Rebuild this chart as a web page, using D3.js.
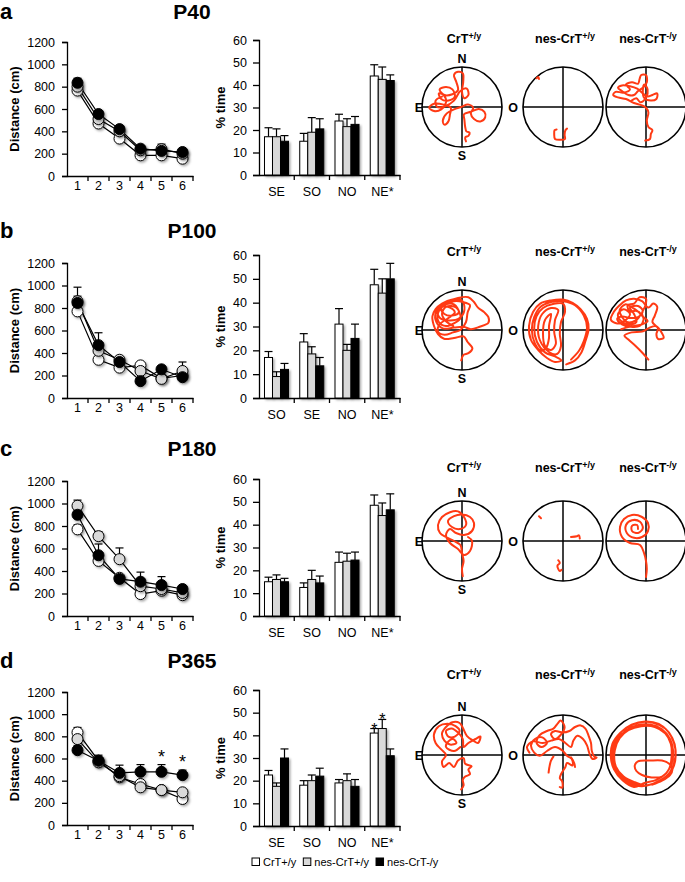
<!DOCTYPE html>
<html>
<head>
<meta charset="utf-8">
<script src="https://cdn.jsdelivr.net/npm/d3@7"></script>
<style>
body { margin: 0; background: #fff; }
svg { font-family: "Liberation Sans", Arial, sans-serif; }
</style>
</head>
<body>
<svg id="chart" width="685" height="882"></svg>
<script>
// ---- data ----
var days = [1, 2, 3, 4, 5, 6];
var distTicks = [0, 200, 400, 600, 800, 1000, 1200];
var timeTicks = [0, 10, 20, 30, 40, 50, 60];
var groups = ["CrT+/y", "nes-CrT+/y", "nes-CrT-/y"];
var ages = ["P40", "P100", "P180", "P365"];
var letters = ["a", "b", "c", "d"];

// distance (cm) per day: rows = CrT+/y, nes-CrT+/y, nes-CrT-/y
var distP40 = [[765, 470, 335, 185, 185, 155], [800, 510, 400, 230, 240, 200], [835, 555, 420, 245, 225, 215]];
var distErrP40 = [[30, 25, 25, 15, 20, 15], [35, 30, 45, 20, 45, 20], [40, 30, 25, 20, 25, 20]];
var distP100 = [[770, 340, 270, 290, 175, 200], [860, 420, 340, 240, 170, 240], [845, 470, 320, 150, 255, 185]];
var distErrP100 = [[30, 30, 30, 20, 20, 20], [125, 50, 30, 20, 30, 80], [60, 110, 30, 20, 30, 30]];
var distP180 = [[770, 490, 340, 195, 225, 185], [980, 710, 505, 265, 240, 205], [900, 540, 330, 305, 275, 240]];
var distErrP180 = [[40, 30, 20, 20, 20, 20], [50, 40, 100, 20, 25, 20], [40, 100, 20, 85, 75, 30]];
var distP365 = [[835, 580, 430, 370, 315, 235], [775, 565, 440, 340, 315, 295], [675, 580, 470, 480, 480, 450]];
var distErrP365 = [[45, 30, 20, 20, 20, 20], [30, 30, 20, 20, 20, 20], [40, 50, 70, 65, 65, 45]];
var distStarsP365 = [5, 6];

// % time per quadrant
var quadP40 = ["SE", "SO", "NO", "NE*"];
var quadP100 = ["SO", "SE", "NO", "NE*"];
var quadP180 = ["SE", "SO", "NO", "NE*"];
var quadP365 = ["SE", "SO", "NO", "NE*"];
var timeP40 = [[17, 15, 24, 44], [17, 19, 21.5, 42.5], [15, 20.5, 22.5, 42]];
var timeErrP40 = [[4, 3.5, 3, 5], [3.5, 6.5, 3.5, 5.5], [2.5, 4.5, 3.5, 2.5]];
var timeP100 = [[17, 23.5, 31, 47.5], [9, 18.5, 20, 44], [12, 13.5, 25, 50]];
var timeErrP100 = [[2.5, 3.5, 6.5, 6.5], [2, 3, 2.5, 6], [2.5, 3.5, 6, 6.5]];
var timeP180 = [[15, 12.5, 23.5, 48.5], [16, 16, 24, 44], [15, 14.5, 24.5, 46.5]];
var timeErrP180 = [[2, 2, 4.5, 4.5], [2, 4, 3.5, 5.5], [1.5, 3, 3.5, 7]];
var timeP365 = [[22.5, 18, 19, 41], [17.5, 20, 20, 43], [30, 22, 17.5, 31]];
var timeErrP365 = [[2, 2, 1.5, 2], [1.5, 2.5, 3, 4], [4, 3.5, 3, 3]];
var timeStarsP365 = [[3, 0], [3, 1]]; // [quadrant, group]

// swim paths, pool coords -100..100 (x: E -> O, y: S -> N)
var pathP40CrT = [[[10,-86],[8,-76],[16,-72],[19,-64],[11,-61],[8,-50],[6,-32],[5,-18],[22,-12],[42,-5],[56,-12],[58,-26],[46,-36],[30,-30],[22,-16],[28,-2],[15,6],[-2,0],[-20,-6],[-38,-16],[-48,-34],[-44,-44],[-34,-36],[-30,-18],[-28,-2],[-46,6],[-70,8],[-82,-2],[-70,-10],[-52,-6],[-40,12],[-46,30],[-58,34],[-52,20],[-34,16],[-18,26],[-24,44],[-40,50],[-56,44],[-44,30],[-24,32],[-10,42],[-14,62],[-20,80],[-10,88],[2,84],[3,62],[0,38],[6,22],[16,30],[12,46],[-4,40],[-20,16],[-42,2],[-62,0],[-66,16],[-50,26]]];
var pathP40NesWt = [[[-66,72],[-62,75],[-60,70]], [[10,-54],[6,-58],[4,-70],[5,-80],[-8,-82],[-20,-80],[-22,-68],[-21,-58],[-16,-56]]];
var pathP40NesKo = [[[-2,-84],[10,-80],[12,-68],[16,-58],[6,-50],[2,-34],[6,-14],[0,-2],[-10,4],[-30,10],[-50,20],[-70,24],[-82,30],[-76,38],[-56,36],[-40,44],[-50,56],[-35,62],[-20,58],[-16,70],[-12,80],[0,80],[2,62],[-6,50],[-20,40],[-30,30],[-44,30],[-60,40],[-70,48],[-60,54],[-40,52],[-22,46],[-10,36],[4,26],[16,30],[28,34],[26,20],[12,16],[-4,22],[-8,40],[-4,56],[4,44],[0,24],[-14,12],[-24,22],[-36,16]]];
var pathP100CrT = [[[-2,-76],[4,-62],[16,-58],[26,-46],[14,-30],[4,-16],[-20,-20],[-45,-22],[-60,-10],[-70,10],[-74,34],[-66,52],[-50,66],[-24,76],[0,74],[6,50],[-6,30],[-30,24],[-55,30],[-62,50],[-48,62],[-20,64],[-8,44],[-24,36],[-44,40],[-52,54],[-36,70],[-10,80],[16,82],[30,70],[40,56],[56,44],[66,32],[66,18],[44,8],[22,2],[4,8],[-20,6],[-48,4],[-64,20],[-66,42],[-52,58],[-30,56],[-18,44],[-34,30],[-56,14],[-60,-4],[-44,-12],[-22,-6],[-4,0],[10,20],[14,44],[20,62],[2,70],[-20,72],[-44,62],[-60,42],[-58,20],[-40,10],[-18,18],[-4,30],[-14,56],[-40,58],[-50,40],[-40,22],[-22,10]]];
var pathP100NesWt = [[[8,-86],[30,-76],[46,-56],[56,-28],[64,2],[60,28],[44,52],[24,68],[0,76],[-30,74],[-57,66],[-75,45],[-85,10],[-80,-25],[-62,-50],[-40,-70],[-20,-80],[-4,-76],[-20,-66],[-45,-56],[-65,-30],[-72,5],[-66,35],[-50,55],[-25,65],[0,66],[5,45],[-5,20],[-8,-10],[-5,-40],[-15,-60],[-35,-55],[-58,-25],[-62,10],[-52,40],[-30,55],[-12,50],[-20,25],[-22,-5],[-18,-35],[-30,-50],[-45,-40],[-50,-10],[-45,25],[-30,40],[-35,10],[-35,-20],[-42,-44],[-55,-52],[-70,-34],[-78,0],[-72,32],[-56,58],[-30,70],[0,72],[30,62],[52,36],[60,6],[52,-28],[40,-52],[20,-74]]];
var pathP100NesKo = [[[6,-74],[-8,-58],[-26,-40],[-44,-24],[-54,-14],[-36,-6],[-10,-4],[6,4],[24,10],[40,-8],[44,-20],[30,-22],[26,-10],[30,4],[16,20],[22,36],[28,58],[18,66],[6,56],[-10,72],[-30,78],[-50,74],[-66,62],[-80,46],[-88,26],[-72,16],[-52,24],[-40,40],[-56,52],[-70,40],[-64,24],[-44,14],[-24,20],[-30,40],[-40,56],[-20,60],[-8,48],[-20,32],[-40,30],[-60,34],[-72,28],[-60,14],[-38,8],[-16,10],[-6,26],[-10,42],[-2,60],[0,78],[-16,82],[-30,66],[-46,62],[-40,46],[-26,48],[-14,40],[-26,24],[-48,20],[-66,48],[-52,64],[-34,56],[-20,46],[-8,34],[4,22],[-10,14],[-30,10],[-50,6],[-62,2]]];
var pathP180CrT = [[[2,-88],[0,-70],[4,-50],[0,-30],[-4,-10],[-20,0],[-40,10],[-55,20],[-60,40],[-50,60],[-30,72],[-10,74],[5,60],[10,40],[-5,30],[-25,35],[-35,50],[-20,62],[0,66],[20,60],[30,45],[25,25],[5,15],[-15,20],[-30,30],[-40,15],[-30,-5],[-10,-20],[5,-35],[20,-25],[25,0],[15,10]]];
var pathP180NesWt = [[[-60,62],[-55,57]], [[20,10],[35,12],[40,14],[42,6]], [[-12,-48],[-8,-55],[-14,-62],[-8,-75],[-4,-72]]];
var pathP180NesKo = [[[0,-90],[2,-70],[0,-50],[-5,-30],[-15,-10],[-40,-5],[-60,10],[-65,35],[-55,55],[-35,65],[-10,60],[5,45],[5,25],[-10,10],[-30,8],[-48,20],[-50,40],[-35,52],[-15,48],[-8,32],[-20,20],[-35,25],[-35,38],[-22,40],[-20,30]]];
var pathP365CrT = [[[-2,-86],[4,-76],[2,-62],[8,-54],[20,-48],[16,-36],[24,-28],[8,-22],[4,-8],[-10,-14],[-20,-30],[-32,-20],[-46,-30],[-50,-16],[-40,0],[-52,14],[-66,30],[-70,52],[-58,72],[-36,78],[-16,72],[-6,60],[-18,46],[-34,46],[-40,60],[-26,66],[-10,56],[2,40],[4,20],[16,30],[34,40],[46,46],[40,30],[28,36],[12,48],[2,68],[-6,80],[-24,82],[-40,70],[-50,54],[-44,36],[-30,26],[-14,30],[-22,40],[-34,34],[-40,20],[-20,10],[-4,20]]];
var pathP365NesWt = [[[-8,-80],[-2,-82],[-2,-66],[-8,-58],[-4,-46],[6,-30],[10,-20],[24,-26],[22,-10],[10,-2],[0,10],[-20,20],[-40,10],[-58,-2],[-72,6],[-80,24],[-70,40],[-52,44],[-40,30],[-54,20],[-66,30],[-58,50],[-40,60],[-24,66],[-14,78],[-6,86],[4,70],[-6,50],[-20,40],[-30,52],[-20,60],[0,56],[16,60],[30,70],[44,74],[56,66],[64,48],[70,30],[72,10],[78,-4],[84,-6],[74,-10],[66,4],[60,24],[50,40],[36,48],[26,36],[20,20],[6,30],[-10,40],[-30,36],[-50,30],[-76,34],[-90,20],[-84,6]], [[-36,-44],[-34,-30],[-30,-14],[-24,-4]], [[30,-30],[28,-20],[20,-6]]];
var pathP365NesKo = [[[-20,-75],[-50,-62],[-72,-40],[-84,-10],[-82,20],[-70,48],[-46,70],[-14,82],[20,80],[48,66],[66,42],[74,12],[70,-20],[56,-48],[30,-66],[0,-76],[-28,-68],[-56,-54],[-76,-28],[-80,4],[-72,36],[-52,60],[-24,74],[10,76],[40,64],[60,40],[68,10],[64,-22],[50,-46],[26,-62],[-4,-70],[-30,-80],[-58,-64],[-80,-36],[-88,-4],[-84,28],[-64,56],[-36,76],[-2,84],[32,78],[56,58],[70,30],[74,-4],[66,-36],[46,-58],[18,-72],[-10,-78],[-40,-72],[-66,-50],[-78,-20],[-78,12],[-66,42],[-44,62],[-12,72],[22,70],[48,54],[62,28],[64,-4],[58,-34],[40,-54],[14,-56],[-10,-50],[-24,-40],[-28,-26],[-20,-16],[10,-14],[40,-14],[58,-22],[66,-36],[60,-50],[40,-64],[16,-74]]];

var distByAge = [distP40, distP100, distP180, distP365];
var distErrByAge = [distErrP40, distErrP100, distErrP180, distErrP365];
var quadByAge = [quadP40, quadP100, quadP180, quadP365];
var timeByAge = [timeP40, timeP100, timeP180, timeP365];
var timeErrByAge = [timeErrP40, timeErrP100, timeErrP180, timeErrP365];
var pathsByAge = [[pathP40CrT, pathP40NesWt, pathP40NesKo], [pathP100CrT, pathP100NesWt, pathP100NesKo],
                  [pathP180CrT, pathP180NesWt, pathP180NesKo], [pathP365CrT, pathP365NesWt, pathP365NesKo]];

// ---- layout ----
var fills = ["#ffffff", "#d9d9d9", "#000000"];
var rows = [
  { label: 19, line: [176, 42], bar: [175, 40], pool: 107, title: 43 },
  { label: 238, line: [398, 263], bar: [398, 255], pool: 330, title: 256 },
  { label: 456, line: [616, 481], bar: [616, 479], pool: 541, title: 472 },
  { label: 668, line: [825, 692], bar: [826, 690], pool: 755, title: 679 }
];
var poolX = [462, 563, 646], poolR = 40;

var svg = d3.select("#chart");

var defs = svg.append("defs");
defs.append("filter").attr("id", "shadow").attr("x", "-50%").attr("y", "-50%").attr("width", "200%").attr("height", "200%")
  .append("feDropShadow").attr("dx", 1.5).attr("dy", 1.5).attr("stdDeviation", 1)
  .attr("flood-color", "#000").attr("flood-opacity", 0.35);

rows.forEach(function(row, ri) {
  var g = svg.append("g");

  g.append("text").attr("x", 0).attr("y", row.label).attr("font-size", 22).attr("font-weight", "bold").text(letters[ri]);
  g.append("text").attr("x", 192).attr("y", row.label).attr("text-anchor", "middle")
    .attr("font-size", 21).attr("font-weight", "bold").text(ages[ri]);

  // --- distance line chart ---
  var x = d3.scaleBand().domain(days).range([67, 193]);
  var y = d3.scaleLinear().domain([0, 1200]).range(row.line);

  var yAx = g.append("g").attr("transform", "translate(67,0)")
    .call(d3.axisLeft(y).tickValues(distTicks).tickFormat(d3.format("d")).tickSize(5).tickPadding(7));
  var xAx = g.append("g").attr("transform", "translate(0," + row.line[0] + ")")
    .call(d3.axisBottom(x).tickSize(0).tickPadding(5));
  [yAx, xAx].forEach(function(a) {
    a.attr("font-family", null).attr("font-size", 12.5);
    a.selectAll("path, line").attr("stroke", "#000").attr("stroke-width", 1.3);
    a.selectAll("text").attr("fill", "#000");
  });
  xAx.selectAll(".bound").data(days).enter().append("line")
    .attr("x1", function(d) { return x(d) + x.bandwidth(); })
    .attr("x2", function(d) { return x(d) + x.bandwidth(); })
    .attr("y1", 0).attr("y2", 5).attr("stroke", "#000").attr("stroke-width", 1.3);

  g.append("text").attr("transform", "translate(19," + (row.line[0] + row.line[1]) / 2 + ") rotate(-90)")
    .attr("text-anchor", "middle").attr("font-size", 13).attr("font-weight", "bold").text("Distance (cm)");

  var cx = function(i) { return x(days[i]) + x.bandwidth() / 2; };
  var line = d3.line().x(function(d, i) { return cx(i); }).y(function(d) { return y(d); });
  var dist = distByAge[ri], err = distErrByAge[ri];

  dist.forEach(function(s) {
    g.append("path").attr("d", line(s)).attr("fill", "none").attr("stroke", "#000").attr("stroke-width", 1.2);
  });
  dist.forEach(function(s, gi) {
    var eb = g.append("g").selectAll("g").data(s).enter().append("g");
    eb.append("line").attr("x1", function(d, i) { return cx(i); }).attr("x2", function(d, i) { return cx(i); })
      .attr("y1", function(d) { return y(d); }).attr("y2", function(d, i) { return y(d + err[gi][i]); })
      .attr("stroke", "#000").attr("stroke-width", 1.2);
    eb.append("line").attr("x1", function(d, i) { return cx(i) - 4; }).attr("x2", function(d, i) { return cx(i) + 4; })
      .attr("y1", function(d, i) { return y(d + err[gi][i]); }).attr("y2", function(d, i) { return y(d + err[gi][i]); })
      .attr("stroke", "#000").attr("stroke-width", 1.2);
  });
  dist.forEach(function(s, gi) {
    g.append("g").selectAll("circle").data(s).enter().append("circle")
      .attr("cx", function(d, i) { return cx(i); }).attr("cy", function(d) { return y(d); })
      .attr("r", 5.5).attr("fill", fills[gi]).attr("stroke", "#000").attr("stroke-width", 1)
      .attr("filter", "url(#shadow)");
  });
  if (ri === 3) {
    g.selectAll(".star").data(distStarsP365).enter().append("text")
      .attr("x", function(d) { return cx(d - 1); })
      .attr("y", function(d) { return y(dist[2][d - 1] + distErrByAge[ri][2][d - 1]) - 2; })
      .attr("text-anchor", "middle").attr("font-size", 18).text("*");
  }

  // --- % time bar chart ---
  var quads = quadByAge[ri];
  var x0 = d3.scaleBand().domain(quads).range([259, 400]);
  var x1 = d3.scaleBand().domain([0, 1, 2]).range([5.5, 29.5]);
  var yb = d3.scaleLinear().domain([0, 60]).range(row.bar);

  var ybAx = g.append("g").attr("transform", "translate(259,0)")
    .call(d3.axisLeft(yb).tickValues(timeTicks).tickSize(6).tickPadding(6));
  var xbAx = g.append("g").attr("transform", "translate(0," + row.bar[0] + ")")
    .call(d3.axisBottom(x0).tickSize(0).tickPadding(12));
  [ybAx, xbAx].forEach(function(a) {
    a.attr("font-family", null).attr("font-size", 12.5);
    a.selectAll("path, line").attr("stroke", "#000").attr("stroke-width", 1.3);
    a.selectAll("text").attr("fill", "#000");
  });
  xbAx.selectAll(".bound").data(quads).enter().append("line")
    .attr("x1", function(d) { return x0(d) + x0.bandwidth(); })
    .attr("x2", function(d) { return x0(d) + x0.bandwidth(); })
    .attr("y1", 0).attr("y2", 5).attr("stroke", "#000").attr("stroke-width", 1.3);

  g.append("text").attr("transform", "translate(225," + (row.bar[0] + row.bar[1]) / 2 + ") rotate(-90)")
    .attr("text-anchor", "middle").attr("font-size", 13).attr("font-weight", "bold").text("% time");

  var tv = timeByAge[ri], te = timeErrByAge[ri];
  tv.forEach(function(s, gi) {
    var bx = function(qi) { return x0(quads[qi]) + x1(gi); };
    var bars = g.append("g").selectAll("g").data(s).enter().append("g");
    bars.append("line").attr("x1", function(d, i) { return bx(i) + 4; }).attr("x2", function(d, i) { return bx(i) + 4; })
      .attr("y1", function(d) { return yb(d); }).attr("y2", function(d, i) { return yb(d + te[gi][i]); })
      .attr("stroke", "#000").attr("stroke-width", 1.2);
    bars.append("line").attr("x1", function(d, i) { return bx(i); }).attr("x2", function(d, i) { return bx(i) + 8; })
      .attr("y1", function(d, i) { return yb(d + te[gi][i]); }).attr("y2", function(d, i) { return yb(d + te[gi][i]); })
      .attr("stroke", "#000").attr("stroke-width", 1.2);
    bars.append("rect").attr("x", function(d, i) { return bx(i); }).attr("width", x1.bandwidth())
      .attr("y", function(d) { return yb(d); }).attr("height", function(d) { return row.bar[0] - yb(d); })
      .attr("fill", fills[gi]).attr("stroke", "#000").attr("stroke-width", 1)
      .attr("filter", "url(#shadow)");
  });
  if (ri === 3) {
    g.selectAll(".tstar").data(timeStarsP365).enter().append("text")
      .attr("x", function(d) { return x0(quads[d[0]]) + x1(d[1]) + 4; })
      .attr("y", function(d) { return yb(tv[d[1]][d[0]] + te[d[1]][d[0]]) + 6; })
      .attr("text-anchor", "middle").attr("font-size", 16).text("*");
  }

  // --- swim paths in the pool ---
  pathsByAge[ri].forEach(function(segs, pi) {
    var px = d3.scaleLinear().domain([-100, 100]).range([poolX[pi] - poolR, poolX[pi] + poolR]);
    var py = d3.scaleLinear().domain([-100, 100]).range([row.pool + poolR, row.pool - poolR]);
    var pg = g.append("g");

    var title = pg.append("text").attr("x", poolX[pi] + 2).attr("y", row.title).attr("text-anchor", "middle")
      .attr("font-size", 12.5).attr("font-weight", "bold");
    var parts = groups[pi].split(/(?=[+-]\/y)/);
    title.append("tspan").text(parts[0]);
    title.append("tspan").attr("font-size", 9).attr("dy", -4.5).text(parts[1]);

    pg.append("circle").attr("cx", poolX[pi]).attr("cy", row.pool).attr("r", poolR)
      .attr("fill", "#fff").attr("stroke", "#000").attr("stroke-width", 1.6);
    pg.append("line").attr("x1", px(-100)).attr("x2", px(100)).attr("y1", py(0)).attr("y2", py(0))
      .attr("stroke", "#000").attr("stroke-width", 1.5);
    pg.append("line").attr("x1", px(0)).attr("x2", px(0)).attr("y1", py(-100)).attr("y2", py(100))
      .attr("stroke", "#000").attr("stroke-width", 1.5);

    var track = d3.line().x(function(d) { return px(d[0]); }).y(function(d) { return py(d[1]); })
      .curve(d3.curveCatmullRom.alpha(0.5));
    segs.forEach(function(seg) {
      pg.append("path").attr("d", track(seg)).attr("fill", "none")
        .attr("stroke", "#ff3a14").attr("stroke-width", 2).attr("stroke-linejoin", "round").attr("stroke-linecap", "round");
    });

    if (pi === 0) {
      var lab = [["N", px(0), py(100) - 4], ["S", px(0), py(-100) + 13], ["E", 419, py(0) + 4.5], ["O", 513, py(0) + 4.5]];
      pg.selectAll(".dir").data(lab).enter().append("text")
        .attr("x", function(d) { return d[1]; }).attr("y", function(d) { return d[2]; })
        .attr("text-anchor", "middle").attr("font-size", 12.5).attr("font-weight", "bold")
        .text(function(d) { return d[0]; });
    }
  });
});

// ---- legend ----
var legG = svg.append("g").attr("transform", "translate(0,862)");
var legCur = 252;
groups.forEach(function(name, i) {
  legG.append("rect").attr("x", legCur).attr("y", -4).attr("width", 7.5).attr("height", 7.5)
    .attr("fill", fills[i]).attr("stroke", "#000").attr("stroke-width", 1);
  var t = legG.append("text").attr("x", legCur + 11).attr("y", 4).attr("font-size", 11).text(name);
  legCur += 11 + t.node().getComputedTextLength() + 7;
});
</script>
</body>
</html>
